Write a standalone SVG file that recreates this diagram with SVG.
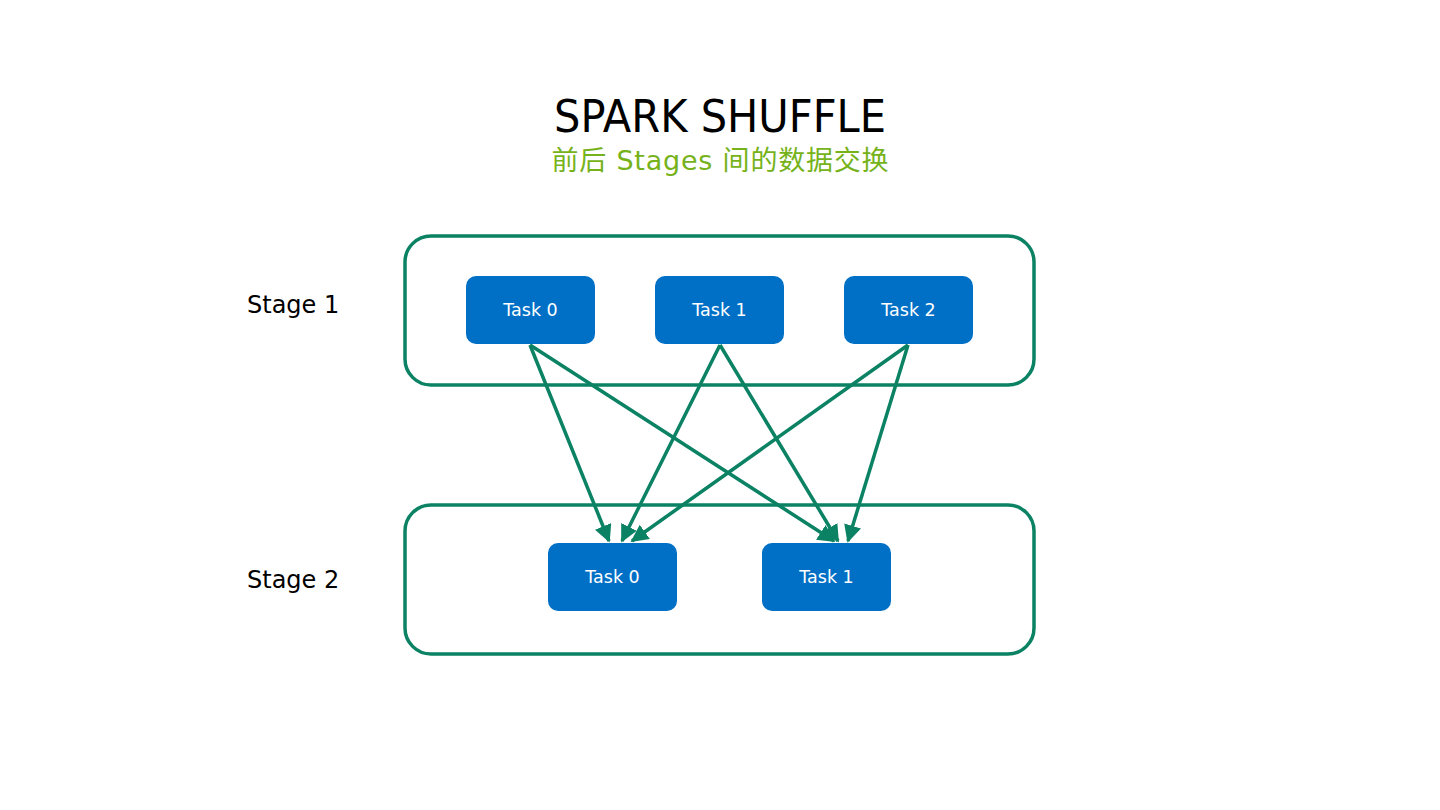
<svg xmlns="http://www.w3.org/2000/svg" width="1440" height="810" viewBox="0 0 1440 810">
<defs>
<style>
.stage{fill:none;stroke:#0b8263;stroke-width:3.5}
.task rect{fill:#0070c6}
.task text{fill:#fff;font-family:"DejaVu Sans",sans-serif;font-size:17.5px;text-anchor:middle}
.lbl{font-family:"DejaVu Sans",sans-serif;font-size:24px;fill:#000}
.edge{stroke:#0b8263;stroke-width:3.5;fill:none;marker-end:url(#ah)}
</style>
<marker id="ah" viewBox="0 0 10 10" refX="9" refY="5" markerWidth="5" markerHeight="5" orient="auto" markerUnits="strokeWidth">
<path d="M0,0 L10,5 L0,10 z" fill="#0b8263"/>
</marker>
</defs>
<rect width="1440" height="810" fill="#fff"/>
<text x="720" y="132" text-anchor="middle" font-family="'DejaVu Sans',sans-serif" font-size="45" fill="#000" textLength="332" lengthAdjust="spacingAndGlyphs">SPARK SHUFFLE</text>
<text x="720" y="170" text-anchor="middle" font-family="'DejaVu Sans','Noto Sans CJK SC',sans-serif" font-size="27" fill="#76b21a" textLength="337" lengthAdjust="spacing">前后 Stages 间的数据交换</text>
<g id="stage1"><rect class="stage" x="405" y="236" width="629" height="149" rx="26"/></g>
<g id="stage2"><rect class="stage" x="405" y="505" width="629" height="149" rx="26"/></g>
<text class="lbl" x="247" y="313">Stage 1</text>
<text class="lbl" x="247" y="588">Stage 2</text>
<g id="s1t0" class="task"><rect x="466" y="276" width="129" height="68" rx="10"/><text x="530.5" y="316">Task 0</text></g>
<g id="s1t1" class="task"><rect x="655" y="276" width="129" height="68" rx="10"/><text x="719.5" y="316">Task 1</text></g>
<g id="s1t2" class="task"><rect x="844" y="276" width="129" height="68" rx="10"/><text x="908.5" y="316">Task 2</text></g>
<g id="s2t0" class="task"><rect x="548" y="543" width="129" height="68" rx="10"/><text x="612.5" y="583">Task 0</text></g>
<g id="s2t1" class="task"><rect x="762" y="543" width="129" height="68" rx="10"/><text x="826.5" y="583">Task 1</text></g>
<g id="connectors">
<line class="edge" x1="530" y1="345" x2="609" y2="541"/>
<line class="edge" x1="720" y1="345" x2="622" y2="541"/>
<line class="edge" x1="908" y1="345" x2="632" y2="541"/>
<line class="edge" x1="530" y1="345" x2="834" y2="541"/>
<line class="edge" x1="720" y1="345" x2="838" y2="541"/>
<line class="edge" x1="908" y1="345" x2="848" y2="541"/>
</g>
</svg>
